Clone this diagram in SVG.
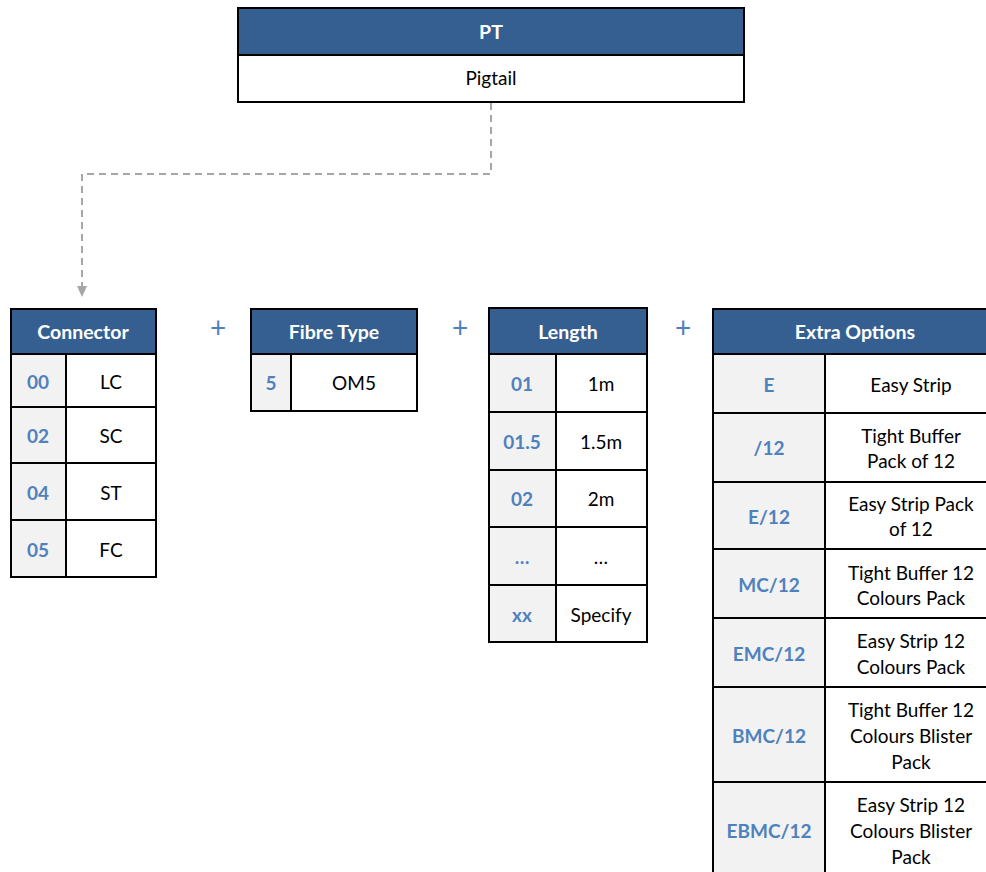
<svg xmlns="http://www.w3.org/2000/svg" width="986" height="872" viewBox="0 0 986 872">
<defs>
<style>
.hd{fill:#365F91;stroke:#000;stroke-width:2}
.cell{fill:#fff;stroke:#000;stroke-width:2}
.code{fill:#F2F2F2;stroke:#000;stroke-width:2}
text{font-family:Lato,"Open Sans",sans-serif;font-size:19px;text-anchor:middle;dominant-baseline:central}
.ht{fill:#fff;font-weight:bold;font-size:19.5px}
.ct{fill:#4F81BD;font-weight:bold}
.vt{fill:#000}
.plus{fill:#4F81BD;font-size:28px}
.conn{fill:none;stroke:#A6A6A6;stroke-width:2;stroke-dasharray:7,5}
</style>
</defs>
<g id="connectors">
<path class="conn" d="M491,103 V174 H82 V286"/>
<path d="M77,286 L87,286 L82,297 Z" fill="#A6A6A6"/>
</g>
<g id="pt">
<rect class="hd" x="238" y="8" width="506" height="47"/>
<rect class="cell" x="238" y="55" width="506" height="47"/>
<text class="ht" x="491" y="31">PT</text>
<text class="vt" x="491" y="77">Pigtail</text>
</g>
<g id="plus-signs">
<text class="plus" x="218" y="327">+</text>
<text class="plus" x="460" y="327">+</text>
<text class="plus" x="683" y="327">+</text>
</g>
<g id="connector">
<rect class="hd" x="11" y="309" width="145" height="45"/>
<text class="ht" x="83" y="331">Connector</text>
<rect class="code" x="11" y="354" width="55" height="53"/><rect class="cell" x="66" y="354" width="90" height="53"/>
<rect class="code" x="11" y="407" width="55" height="56"/><rect class="cell" x="66" y="407" width="90" height="56"/>
<rect class="code" x="11" y="463" width="55" height="57"/><rect class="cell" x="66" y="463" width="90" height="57"/>
<rect class="code" x="11" y="520" width="55" height="57"/><rect class="cell" x="66" y="520" width="90" height="57"/>
<text class="ct" x="38" y="381">00</text><text class="vt" x="111" y="381">LC</text>
<text class="ct" x="38" y="435">02</text><text class="vt" x="111" y="435">SC</text>
<text class="ct" x="38" y="492">04</text><text class="vt" x="111" y="492">ST</text>
<text class="ct" x="38" y="549">05</text><text class="vt" x="111" y="549">FC</text>
</g>
<g id="fibre-type">
<rect class="hd" x="251" y="309" width="166" height="45"/>
<text class="ht" x="334" y="331">Fibre Type</text>
<rect class="code" x="251" y="354" width="40" height="57"/><rect class="cell" x="291" y="354" width="126" height="57"/>
<text class="ct" x="271" y="382">5</text><text class="vt" x="354" y="382">OM5</text>
</g>
<g id="length">
<rect class="hd" x="489" y="308" width="158" height="46"/>
<text class="ht" x="568" y="331">Length</text>
<rect class="code" x="489" y="354" width="67" height="58"/><rect class="cell" x="556" y="354" width="91" height="58"/>
<rect class="code" x="489" y="412" width="67" height="58"/><rect class="cell" x="556" y="412" width="91" height="58"/>
<rect class="code" x="489" y="470" width="67" height="57"/><rect class="cell" x="556" y="470" width="91" height="57"/>
<rect class="code" x="489" y="527" width="67" height="58"/><rect class="cell" x="556" y="527" width="91" height="58"/>
<rect class="code" x="489" y="585" width="67" height="57"/><rect class="cell" x="556" y="585" width="91" height="57"/>
<text class="ct" x="522" y="383">01</text><text class="vt" x="601" y="383">1m</text>
<text class="ct" x="522" y="441">01.5</text><text class="vt" x="601" y="441">1.5m</text>
<text class="ct" x="522" y="498">02</text><text class="vt" x="601" y="498">2m</text>
<text class="ct" x="522" y="556">…</text><text class="vt" x="601" y="556">…</text>
<text class="ct" x="522" y="614">xx</text><text class="vt" x="601" y="614">Specify</text>
</g>
<g id="extra-options">
<rect class="hd" x="713" y="309" width="290" height="45"/>
<text class="ht" x="855" y="331">Extra Options</text>
<rect class="code" x="713" y="354" width="112" height="59"/><rect class="cell" x="825" y="354" width="178" height="59"/>
<rect class="code" x="713" y="413" width="112" height="69"/><rect class="cell" x="825" y="413" width="178" height="69"/>
<rect class="code" x="713" y="482" width="112" height="67"/><rect class="cell" x="825" y="482" width="178" height="67"/>
<rect class="code" x="713" y="549" width="112" height="69"/><rect class="cell" x="825" y="549" width="178" height="69"/>
<rect class="code" x="713" y="618" width="112" height="69"/><rect class="cell" x="825" y="618" width="178" height="69"/>
<rect class="code" x="713" y="687" width="112" height="95"/><rect class="cell" x="825" y="687" width="178" height="95"/>
<rect class="code" x="713" y="782" width="112" height="100"/><rect class="cell" x="825" y="782" width="178" height="100"/>
<text class="ct" x="769" y="384">E</text><text class="vt" x="911" y="384">Easy Strip</text>
<text class="ct" x="769" y="447">/12</text><text class="vt" x="911" y="435">Tight Buffer</text><text class="vt" x="911" y="460">Pack of 12</text>
<text class="ct" x="769" y="516">E/12</text><text class="vt" x="911" y="503">Easy Strip Pack</text><text class="vt" x="911" y="528">of 12</text>
<text class="ct" x="769" y="584">MC/12</text><text class="vt" x="911" y="572">Tight Buffer 12</text><text class="vt" x="911" y="597">Colours Pack</text>
<text class="ct" x="769" y="653">EMC/12</text><text class="vt" x="911" y="640">Easy Strip 12</text><text class="vt" x="911" y="666">Colours Pack</text>
<text class="ct" x="769" y="735">BMC/12</text><text class="vt" x="911" y="709">Tight Buffer 12</text><text class="vt" x="911" y="735">Colours Blister</text><text class="vt" x="911" y="761">Pack</text>
<text class="ct" x="769" y="830">EBMC/12</text><text class="vt" x="911" y="804">Easy Strip 12</text><text class="vt" x="911" y="830">Colours Blister</text><text class="vt" x="911" y="856">Pack</text>
</g>
</svg>
